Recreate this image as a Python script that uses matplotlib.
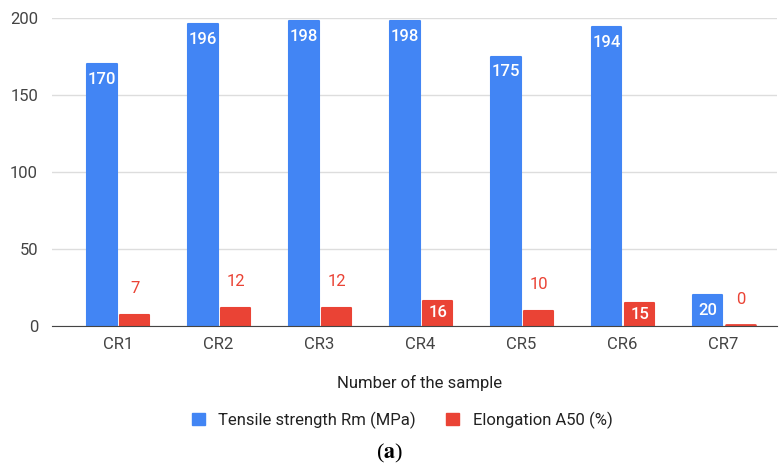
import numpy as np
import matplotlib.pyplot as plt
from matplotlib.patches import Patch

plt.rcParams['font.family'] = ['Roboto', 'DejaVu Sans']
plt.rcParams['mathtext.fontset'] = 'stix'

# Data
samples = ['CR1', 'CR2', 'CR3', 'CR4', 'CR5', 'CR6', 'CR7']
tensile = [170, 196, 198, 198, 175, 194, 20]
elongation = [7, 12, 12, 16, 10, 15, 0]
# which elongation labels sit inside the bar
elong_inside = [False, False, False, True, False, True, False]

blue = '#4285F4'
red = '#EA4335'

fig = plt.figure(figsize=(7.8, 4.7), dpi=100)
ax = fig.add_axes([52 / 780, 1 - 326 / 470, 725 / 780, 308 / 470])

x = np.arange(len(samples))
w = 0.29
b1 = ax.bar(x - 0.155, tensile, w, color=blue, ec=blue, lw=1.5, joinstyle='round', zorder=3)
b2 = ax.bar(x + 0.17, elongation, w, color=red, ec=red, lw=1.5, joinstyle='round', zorder=3)
# zero-height bar still shows a thin line
for rect, v in zip(b2, elongation):
    if v == 0:
        ax.plot([rect.get_x(), rect.get_x() + w], [0.5, 0.5], color=red, lw=2,
                solid_capstyle='round', zorder=3)

for xi, v in zip(x - 0.155, tensile):
    ax.annotate(str(v), (xi, v), xytext=(0, -11), textcoords='offset points',
                ha='center', va='center', color='white', fontsize=12,
                fontweight='medium', zorder=4)
for xi, v, inside in zip(x + 0.17, elongation, elong_inside):
    if inside:
        ax.annotate(str(v), (xi, v), xytext=(0, -8), textcoords='offset points',
                    ha='center', va='center', color='white', fontsize=12,
                    fontweight='medium', zorder=4)
    else:
        ax.annotate(str(v), (xi, v), xytext=(0, 19), textcoords='offset points',
                    ha='center', va='center', color=red, fontsize=12, zorder=4)

ax.set_xlim(-0.65, 6.53)
ax.set_ylim(0, 200)
ax.set_yticks([0, 50, 100, 150, 200])
ax.set_xticks(x)
ax.set_xticklabels(samples)
ax.tick_params(length=0, labelsize=12, labelcolor='#444444', pad=8)
ax.tick_params(axis='y', pad=10)
ax.grid(axis='y', color='#dddddd', lw=1, zorder=0)
for s in ['top', 'right', 'left']:
    ax.spines[s].set_visible(False)
ax.spines['bottom'].set_color('#444444')
ax.spines['bottom'].set_zorder(5)

fig.text(420 / 780, 1 - 383 / 470, 'Number of the sample', ha='center', va='center',
         fontsize=12, color='#222222')

handles = [Patch(color=blue, label='Tensile strength Rm (MPa)'),
           Patch(color=red, label='Elongation A50 (%)')]
fig.legend(handles=handles, loc='center', bbox_to_anchor=(402 / 780, 1 - 420 / 470),
           ncol=2, frameon=False, fontsize=12, handlelength=0.8, handleheight=0.8,
           handletextpad=0.8, columnspacing=1.8, labelcolor='#222222')

fig.text(390 / 780, 1 - 453 / 470, r'($\mathbf{a}$)', ha='center', va='center',
         fontsize=16, family='Liberation Serif')

fig.savefig('out.png', dpi=100)
